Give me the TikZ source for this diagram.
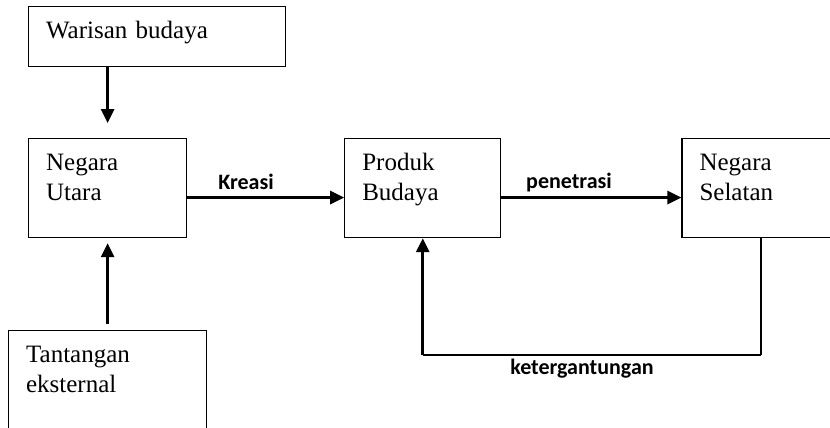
\documentclass[tikz,border=0pt]{standalone}
\usepackage{fontspec}
\setmainfont{Liberation Serif}
\newfontfamily\labelfont{Carlito}
\usetikzlibrary{positioning,arrows.meta}
\tikzset{
    plain-box/.style = {draw=black, line width=1.2pt, rectangle, inner xsep=17.5pt, inner ysep=0pt, align=left, text height=32pt, font=\fontsize{25}{30}\selectfont},
    link-label/.style = {inner sep=0pt, anchor=base, font=\labelfont\bfseries\fontsize{22}{26}\selectfont},
    flow-arrow/.style = {line width=2.8pt, -{Triangle[length=14pt,width=13pt]}},
}

\begin{document}
\begin{tikzpicture}
\useasboundingbox (0,0) rectangle (830pt,-428pt);
\node[plain-box, anchor=north west, text width=123pt, text depth=67pt] (utara) at (28pt,-138pt) {Negara\\Utara};
\node[plain-box, right=157pt of utara, text width=121pt, text depth=67pt] (produk) {Produk\\Budaya};
\node[plain-box, right=180pt of produk, text width=123pt, text depth=67pt] (selatan) {Negara\\Selatan};
\node[plain-box, above=71pt of utara.north west, anchor=south west, text width=222pt, text depth=28pt] (warisan) {Warisan budaya};
\node[plain-box, below=92pt of utara, text width=163pt, text depth=88pt] (tantangan) {Tantangan\\eksternal};

\draw[flow-arrow] (warisan.south -| utara.north) -- ([yshift=15pt]utara.north);
\draw[flow-arrow] ([yshift=6pt]tantangan.north) -- ([yshift=-5pt]utara.south);
\draw[flow-arrow] ([yshift=-9.5pt]utara.east) -- ([yshift=-9.5pt]produk.west);
\draw[flow-arrow] ([yshift=-9.5pt]produk.east) -- ([yshift=-9.5pt]selatan.west);

\coordinate (loop-r) at ([yshift=-117pt]selatan.south);
\coordinate (loop-l) at (produk.south |- loop-r);
\draw[line width=1.2pt] (selatan.south) -- (loop-r);
\draw[line width=1.8pt] (loop-r) -- (loop-l);
\draw[flow-arrow] (loop-l) -- (produk.south);

\node[link-label] (kreasi) at (246pt,-189pt) {Kreasi};
\node[link-label] (penetrasi) at (569pt,-188pt) {penetrasi};
\node[link-label] (ketergantungan) at (582pt,-374pt) {ketergantungan};
\end{tikzpicture}
\end{document}
